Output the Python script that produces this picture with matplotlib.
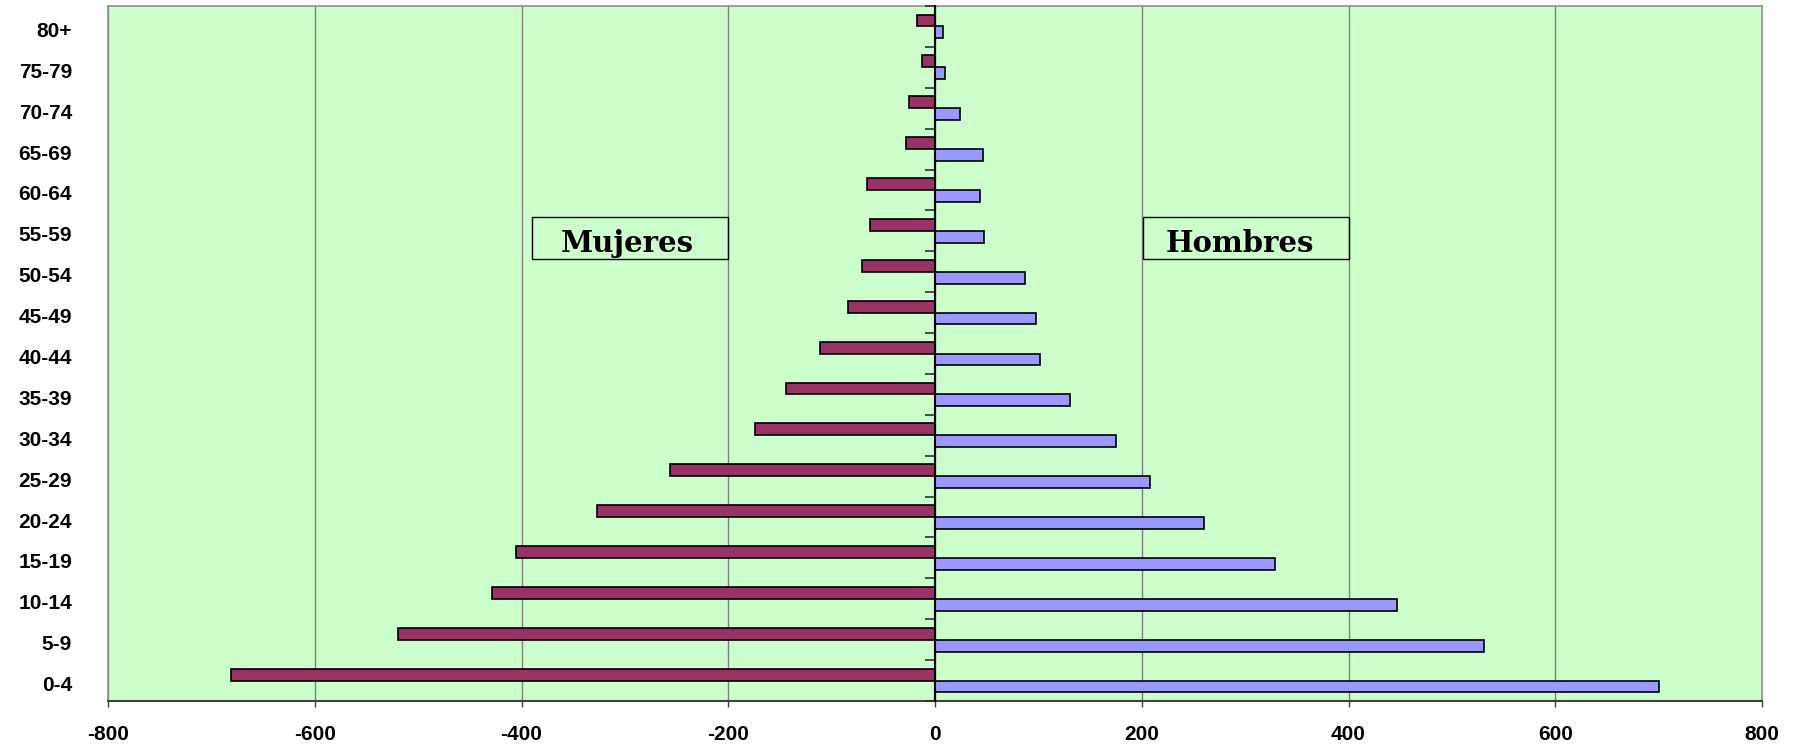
import matplotlib
matplotlib.use("Agg")
import matplotlib.pyplot as plt
import matplotlib.transforms as mtransforms
from matplotlib.patches import Rectangle
import numpy as np

edades = ['0-4', '5-9', '10-14', '15-19', '20-24', '25-29', '30-34', '35-39', '40-44',
          '45-49', '50-54', '55-59', '60-64', '65-69', '70-74', '75-79', '80+']
mujeres = [681, 519, 429, 405, 327, 256, 174, 144, 111, 84, 71, 63, 66, 28, 25, 13, 17]
hombres = [700, 531, 447, 329, 260, 208, 175, 131, 102, 98, 87, 47, 44, 46, 24, 10, 8]
x_ticks = [-800, -600, -400, -200, 0, 200, 400, 600, 800]

plt.rcParams['axes.unicode_minus'] = False

fig = plt.figure(figsize=(17.95, 7.44), dpi=100)
ax = fig.add_axes([108/1795, 1 - 701/744, (1762 - 108)/1795, (701 - 6)/744])
ax.set_facecolor('#CCFFCC')

y = np.arange(len(edades))
h = 0.29
ax.barh(y + h/2, [-v for v in mujeres], height=h, color='#993366', edgecolor='black', linewidth=1.2, zorder=3)
ax.barh(y - h/2, hombres, height=h, color='#9999FF', edgecolor='black', linewidth=1.2, zorder=3)

ax.set_xlim(-800, 800)
ax.set_ylim(-0.5, len(edades) - 0.5)
ax.set_xticks(x_ticks)
ax.set_xticklabels([str(t) for t in x_ticks], fontfamily='Liberation Sans', fontweight='bold', fontsize=15)
ax.set_yticks(y)
ax.set_yticklabels(edades, fontfamily='Liberation Sans', fontweight='bold', fontsize=15)
ax.tick_params(axis='y', length=0, pad=26)
ax.tick_params(axis='x', length=4.5, width=1, color='#404040', pad=13, direction='out')
ax.grid(axis='x', color='#808080', linewidth=1, zorder=1)

# bajar un poco las etiquetas de edad
shift = mtransforms.ScaledTranslation(0, -3/100, fig.dpi_scale_trans)
for lbl in ax.get_yticklabels():
    lbl.set_transform(lbl.get_transform() + shift)

for s in ['top', 'right', 'left']:
    ax.spines[s].set_color('#909090')
    ax.spines[s].set_linewidth(1.2)
ax.spines['bottom'].set_color('#404040')
ax.spines['bottom'].set_linewidth(1.5)

# eje vertical en cero con marcas entre grupos
zero = ax.secondary_yaxis(0.5)
zero.set_yticks(np.arange(-0.5, len(edades), 1.0))
zero.set_yticklabels([])
zero.tick_params(axis='y', length=7, width=1.2, color='#303030', direction='in')
for s in zero.spines.values():
    s.set_color('black')
    s.set_linewidth(1.5)
zero.set_zorder(4)

# etiquetas en recuadros
for x0, x1, xt, txt in [(-389.6, -200.4, -297.6, 'Mujeres'), (201, 400.9, 295, 'Hombres')]:
    ax.add_patch(Rectangle((x0, 10.318), x1 - x0, 1.013, facecolor='none', edgecolor='black', linewidth=1, zorder=5))
    ax.text(xt, 10.475, txt, ha='center', va='baseline', fontsize=21,
            fontfamily='DejaVu Serif', fontweight='bold', zorder=6)

fig.savefig('out.png', dpi=100)
